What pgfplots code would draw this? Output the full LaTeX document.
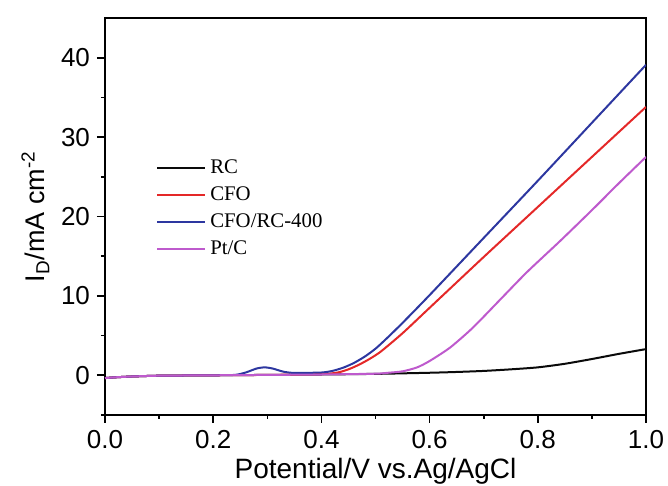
\documentclass[border=0pt]{standalone}
\usepackage{pgfplots}
\pgfplotsset{compat=1.18}
\usepackage{fontspec}
\setmainfont{Liberation Sans}
\newfontfamily\seriffont{Liberation Serif}
\definecolor{cRC}{RGB}{10,10,10}
\definecolor{cCFO}{RGB}{228,40,40}
\definecolor{cRC400}{RGB}{45,55,160}
\definecolor{cPt}{RGB}{190,90,205}
\begin{document}
\begin{tikzpicture}
\begin{axis}[
  scale only axis,
  width=270.5pt, height=198.5pt,
  xmin=0, xmax=1.0, ymin=-5, ymax=45,
  xtick={0,0.2,0.4,0.6,0.8,1.0},
  minor xtick={0.1,0.3,0.5,0.7,0.9},
  ytick={0,10,20,30,40},
  minor ytick={-5,5,15,25,35},
  xticklabel style={/pgf/number format/fixed,/pgf/number format/fixed zerofill,/pgf/number format/precision=1},
  /pgf/number format/assume math mode=true,
  tick label style={font=\fontsize{13}{15}\selectfont},
  xlabel style={font=\fontsize{14}{16}\selectfont, yshift=2pt},
  ylabel style={font=\fontsize{13.5}{16}\selectfont, yshift=-1pt},
  xtick pos=bottom, ytick pos=left,
  tick align=outside,
  major tick length=4pt, minor tick length=2pt,
  axis line style={line width=0.9pt},
  every tick/.style={line width=0.8pt, black},
  xlabel={Potential/V vs.Ag/AgCl},
  ylabel={I\textsubscript{D}/mA cm\textsuperscript{-2}},
  legend style={draw=none, fill=none, at={(axis description cs:0.083,0.665)}, anchor=north west,
    font=\seriffont\fontsize{10.4}{12}\selectfont, row sep=1.2pt,
    /tikz/every even column/.append style={column sep=0pt}},
  legend cell align=left,
  legend image code/.code={\draw[#1] (0pt,0pt) -- (24pt,0pt);},
  every axis plot/.append style={line width=1pt},
]
\coordinate (sw) at (rel axis cs:0,0);
\addplot[cRC, smooth, tension=0.4] coordinates {
(0,-0.35) (0.02,-0.25) (0.05,-0.15) (0.1,-0.05) (0.2,0.0) (0.3,0.05) (0.4,0.1) (0.5,0.18)
(0.6,0.32) (0.65,0.42) (0.7,0.55) (0.75,0.75) (0.8,1.0) (0.85,1.45) (0.9,2.05) (0.95,2.7) (1.0,3.3)};
\addlegendentry{RC}
\addplot[cCFO, smooth, tension=0.4] coordinates {
(0,-0.35) (0.02,-0.25) (0.05,-0.15) (0.1,-0.05) (0.2,0.0) (0.3,0.05) (0.4,0.15) (0.43,0.35)
(0.45,0.75) (0.47,1.35) (0.49,2.1) (0.51,3.0) (0.55,5.3) (0.6,8.5) (0.7,14.9) (0.8,21.2) (0.9,27.5) (1.0,33.8)};
\addlegendentry{CFO}
\addplot[cRC400, smooth, tension=0.4] coordinates {
(0,-0.35) (0.02,-0.25) (0.05,-0.15) (0.1,-0.05) (0.2,0.0) (0.24,0.05) (0.26,0.35) (0.28,0.85) (0.295,1.0)
(0.31,0.85) (0.33,0.45) (0.35,0.3) (0.4,0.35) (0.42,0.55) (0.44,0.95) (0.46,1.55) (0.48,2.35) (0.50,3.35)
(0.52,4.6) (0.55,6.6) (0.6,10.1) (0.7,17.3) (0.8,24.5) (0.9,31.8) (1.0,39.1)};
\addlegendentry{CFO/RC-400}
\addplot[cPt, smooth, tension=0.4] coordinates {
(0,-0.35) (0.02,-0.25) (0.05,-0.15) (0.1,-0.05) (0.2,0.0) (0.3,0.05) (0.4,0.1) (0.5,0.2) (0.52,0.3)
(0.55,0.5) (0.577,1.0) (0.6,1.8) (0.638,3.5) (0.68,6.0) (0.73,9.5) (0.78,13.0) (0.841,16.9) (0.9,20.8) (0.95,24.2) (1.0,27.5)};
\addlegendentry{Pt/C}
\end{axis}
\pgfresetboundingbox
\path[use as bounding box] (sw) ++(-52.5pt,-35.5pt) rectangle ++(334pt,243pt);
\end{tikzpicture}
\end{document}
